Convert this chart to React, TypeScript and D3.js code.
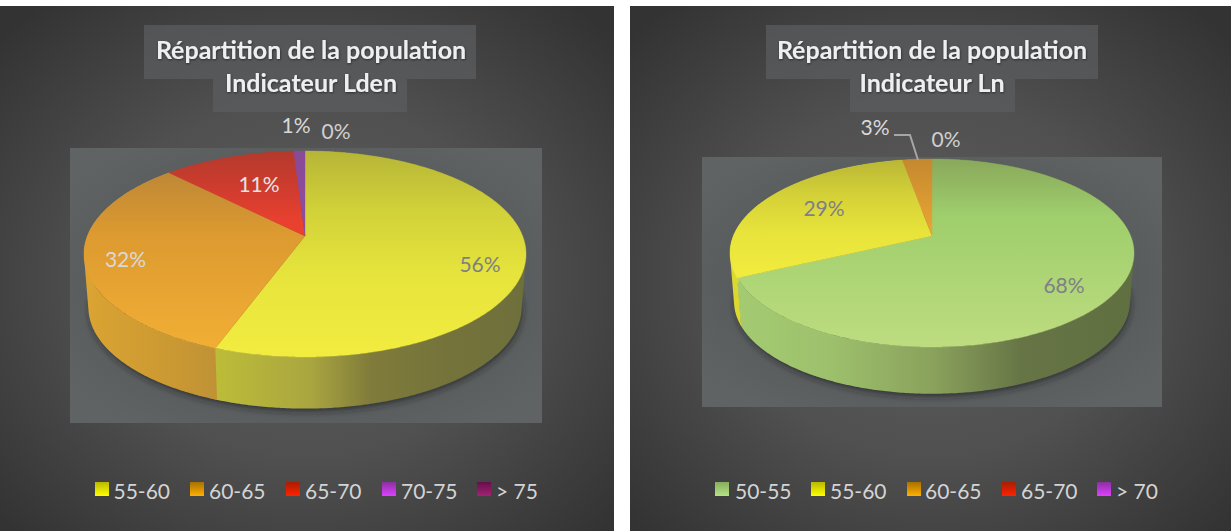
import React from "react";
import * as d3 from "d3";

const ldenCategories = ["55-60", "60-65", "65-70", "70-75", "> 75"];
const ldenValues = [55.6, 32, 11.45, 0.9, 0.05];
const ldenLabels = ["56%", "32%", "11%", "1%", "0%"];
const lnCategories = ["50-55", "55-60", "60-65", "65-70", "> 70"];
const lnValues = [68, 29.2, 2.75, 0.03, 0.02];
const lnLabels = ["68%", "29%", "3%", "0%", "0%"];

type Shade = { top: [number, string][]; wall: [number, string][]; key: [string, string] };
const shades: Record<string, Shade> = {
  green: {
    top: [[0, "#89a85b"], [0.3, "#9fce6c"], [1, "#bddc80"]],
    wall: [[0, "#a4cc72"], [0.25, "#9dc06c"], [0.5, "#8aa25c"], [0.72, "#677546"], [1, "#5f6f40"]],
    key: ["#86ad5e", "#b4e484"],
  },
  yellow: {
    top: [[0, "#b7b537"], [0.3, "#d2d239"], [0.6, "#e6e43c"], [1, "#f3ec40"]],
    wall: [[0, "#bcbc38"], [0.3, "#aaa640"], [0.5, "#7f7b3a"], [0.75, "#74733a"], [1, "#6e703c"]],
    key: ["#b8b800", "#ffff00"],
  },
  lemon: {
    top: [[0, "#b9b636"], [0.2, "#d5d238"], [0.4, "#e8e43b"], [0.65, "#f3ec40"]],
    wall: [[0, "#dcd832"], [1, "#dcd832"]],
    key: ["#b8b800", "#ffff00"],
  },
  orange: {
    top: [[0, "#b48139"], [0.4, "#dc9a30"], [1, "#f3b035"]],
    wall: [[0, "#dba432"], [0.6, "#cc9a32"], [1, "#c09236"]],
    key: ["#a87000", "#ffb000"],
  },
  amber: {
    top: [[0, "#c4882f"], [0.38, "#e9a534"], [1, "#e9a534"]],
    wall: [[0, "#bd8c35"], [1, "#bd8c35"]],
    key: ["#a87000", "#ffb000"],
  },
  red: {
    top: [[0, "#b33a2d"], [0.2, "#d23c2e"], [0.35, "#ea412f"], [1, "#ea412f"]],
    wall: [[0, "#a8382c"], [1, "#a8382c"]],
    key: ["#a81e00", "#ff2200"],
  },
  purple: {
    top: [[0, "#8a4a98"], [1, "#9550a8"]],
    wall: [[0, "#7a4388"], [1, "#7a4388"]],
    key: ["#8a30a0", "#e040ff"],
  },
  plum: {
    top: [[0, "#6a1050"], [1, "#a02070"]],
    wall: [[0, "#6a1050"], [1, "#6a1050"]],
    key: ["#650f4c", "#a32272"],
  },
};

const FONT = "Lato, 'Open Sans', sans-serif";
const tau = Math.PI * 2;
const VISIBLE_SLICE = 0.5; // slices below this share are too thin to paint
const WALL_OVERLAP = 0.008; // radians a wall runs under its neighbour, to close the seam

type Cfg = {
  id: string;
  title: string[];
  panel: [number, number, number, number];
  plot: [number, number, number, number];
  titleBoxes: [number, number, number, number][];
  titleCx: number;
  cx: number;
  cy: number;
  rx: number;
  near: number;
  far: number;
  depth: number;
  categories: string[];
  values: number[];
  labels: string[];
  colors: string[];
  labelPos: ([number, number, string] | null)[];
  keyX: number[];
  textX: number[];
  leader?: [number, number][];
};

const charts: Cfg[] = [
  {
    id: "a",
    title: ["Répartition de la population", "Indicateur Lden"],
    panel: [0, 6, 614, 525],
    plot: [70, 148, 472, 275],
    titleBoxes: [[144, 25, 332, 54], [213, 79, 194, 33]],
    titleCx: 311,
    cx: 305,
    cy: 236,
    rx: 221,
    near: 121,
    far: 85,
    depth: 54,
    categories: ldenCategories,
    values: ldenValues,
    labels: ldenLabels,
    colors: ["yellow", "orange", "red", "purple", "plum"],
    labelPos: [[480, 272, "#7f7f86"], [125.5, 267, "#d9d9d9"], [259, 192, "#e4e4e4"], [296, 133, "#d9d9d9"], [336, 139, "#d0d0d0"]],
    keyX: [95, 190, 286, 382, 477],
    textX: [113.5, 209, 305, 401, 496],
  },
  {
    id: "b",
    title: ["Répartition de la population", "Indicateur Ln"],
    panel: [630, 6, 601, 525],
    plot: [702, 157, 460, 250],
    titleBoxes: [[766, 25, 332, 54], [850, 79, 165, 33]],
    titleCx: 932,
    cx: 932,
    cy: 236,
    rx: 202,
    near: 111,
    far: 77,
    depth: 49,
    categories: lnCategories,
    values: lnValues,
    labels: lnLabels,
    colors: ["green", "lemon", "amber", "red", "purple"],
    labelPos: [[1064, 293, "#7f7f86"], [824, 216, "#7f7f86"], [875, 135, "#d9d9d9"], [946, 147, "#d0d0d0"], null],
    keyX: [715, 811, 907, 1002, 1097],
    textX: [735, 830, 925, 1021, 1116],
    leader: [[894, 135], [910, 135], [918, 160]],
  },
];

// Perspective view of the pie's disc: the pivot is nearer the far rim than the near rim.
function projector(c: Cfg) {
  const k = (c.near - c.far) / (c.near + c.far);
  const a = c.far * (1 + k);
  const b = c.rx * Math.sqrt(1 - k * k);
  return (theta: number, r: number, level: number): [number, number] => {
    const u = Math.sin(theta) * r;
    const v = Math.cos(theta) * r;
    const w = 1 + k * v;
    const s = level ? 0.98 : 1;
    return [c.cx + (s * b * u) / w, c.cy + level * c.depth - (s * a * v) / w];
  };
}

function Stops({ stops }: { stops: [number, string][] }) {
  return (
    <>
      {stops.map(([o, col], i) => (
        <stop key={i} offset={o} stopColor={col} />
      ))}
    </>
  );
}

function Chart({ c }: { c: Cfg }) {
  const project = projector(c);
  const slices = d3.pie<number>().sort(null).startAngle(0).endAngle(tau)(c.values);
  const visible = slices.filter((s) => s.value >= VISIBLE_SLICE);
  const line = d3.line<[number, number]>().x((d) => d[0]).y((d) => d[1]).curve(d3.curveLinear);
  const arcPoints = (from: number, to: number, level: number) => {
    const n = Math.max(2, Math.ceil((to - from) / 0.01));
    return d3.range(n + 1).map((i) => project(from + ((to - from) * i) / n, 1, level));
  };
  // The wall as one strip of quads, all wound the same way, so its outline runs along the tangents.
  const wallPath = (from: number, to: number) => {
    const t = arcPoints(from, to, 0);
    const b = arcPoints(from, to, 1);
    return d3
      .range(t.length - 1)
      .map((i) => {
        const quad: [number, number][] = [t[i], t[i + 1], b[i + 1], b[i]];
        if (d3.polygonArea(quad) < 0) quad.reverse();
        return (line(quad) ?? "") + "Z";
      })
      .join("");
  };
  const topY = c.cy - c.far;
  const bottomY = c.cy + c.near;
  const wallX0 = c.cx - c.rx;
  const wallX1 = c.cx + c.rx;
  const shadowPts = arcPoints(0, tau, 1).map(([x, y]) => [x + 1, y + 3] as [number, number]);

  return (
    <g>
      <defs>
        {c.colors.map((name) => (
          <React.Fragment key={name}>
            <linearGradient id={`${c.id}-top-${name}`} gradientUnits="userSpaceOnUse" x1={0} x2={0} y1={topY} y2={bottomY}>
              <Stops stops={shades[name].top} />
            </linearGradient>
            <linearGradient
              id={`${c.id}-wall-${name}`}
              gradientUnits="userSpaceOnUse"
              x1={name === "yellow" ? 217 : name === "orange" ? 84 : wallX0}
              x2={name === "orange" ? 218 : wallX1}
              y1={0}
              y2={0}
            >
              <Stops stops={shades[name].wall} />
            </linearGradient>
            <linearGradient id={`${c.id}-key-${name}`} x1={0} x2={0} y1={0} y2={1}>
              <stop offset={0} stopColor={shades[name].key[0]} />
              <stop offset={1} stopColor={shades[name].key[1]} />
            </linearGradient>
          </React.Fragment>
        ))}
        <radialGradient id={`${c.id}-panel`} cx="50%" cy="52%" r="68%">
          <stop offset={0} stopColor="#5e5e5e" />
          <stop offset={0.5} stopColor="#505050" />
          <stop offset={1} stopColor="#333333" />
        </radialGradient>
        <radialGradient id={`${c.id}-plot`} cx="50%" cy="50%" r="62%">
          <stop offset={0} stopColor="#4c5052" />
          <stop offset={0.6} stopColor="#565a5c" />
          <stop offset={1} stopColor="#606363" />
        </radialGradient>
      </defs>

      <rect x={c.panel[0]} y={c.panel[1]} width={c.panel[2]} height={c.panel[3]} fill={`url(#${c.id}-panel)`} />
      {c.titleBoxes.map((b, i) => (
        <rect key={i} x={b[0]} y={b[1]} width={b[2]} height={b[3]} fill="#5a5d5e" fillOpacity={0.72} />
      ))}
      {c.title.map((t, i) => (
        <text
          key={i}
          x={c.titleCx}
          y={59 + i * 32.5}
          textAnchor="middle"
          fontFamily={FONT}
          fontWeight={700}
          fontSize={25}
          fill="#efefef"
          filter="url(#textShadow)"
        >
          {t}
        </text>
      ))}
      <rect x={c.plot[0]} y={c.plot[1]} width={c.plot[2]} height={c.plot[3]} fill={`url(#${c.id}-plot)`} />

      <path d={(line(shadowPts) ?? "") + "Z"} fill="#1c1c1c" fillOpacity={0.6} filter="url(#pieShadow)" />

      {visible.map((s) => (
        <path
          key={s.index}
          d={wallPath(s.startAngle, s.endAngle + WALL_OVERLAP)}
          fill={`url(#${c.id}-wall-${c.colors[s.index]})`}
        />
      ))}
      {visible.map((s, j) => {
        const end = j === visible.length - 1 ? tau : s.endAngle;
        const pts = [project(0, 0, 0), ...arcPoints(s.startAngle, end, 0)];
        const fill = `url(#${c.id}-top-${c.colors[s.index]})`;
        return <path key={s.index} d={(line(pts) ?? "") + "Z"} fill={fill} stroke={fill} strokeWidth={0.4} />;
      })}

      {c.leader && <path d={line(c.leader) ?? ""} fill="none" stroke="#a6a6a9" strokeWidth={2} />}
      {c.labels.map((l, i) => {
        const p = c.labelPos[i];
        return p ? (
          <text key={i} x={p[0]} y={p[1]} textAnchor="middle" fontFamily={FONT} fontSize={21} fill={p[2]}>
            {l}
          </text>
        ) : null;
      })}

      {c.categories.map((cat, i) => (
        <g key={cat}>
          <rect x={c.keyX[i]} y={482} width={14} height={14} fill={`url(#${c.id}-key-${c.colors[i]})`} />
          <text x={c.textX[i]} y={499} fontFamily={FONT} fontSize={21} fill="#d4d4d4">
            {cat}
          </text>
        </g>
      ))}
    </g>
  );
}

export default function App() {
  return (
    <svg
      width={1231}
      height={531}
      viewBox="0 0 1231 531"
      style={{ position: "absolute", left: 0, top: 0, background: "#fff", display: "block" }}
    >
      <defs>
        <filter id="pieShadow" x="-10%" y="-10%" width="120%" height="130%">
          <feGaussianBlur stdDeviation="3" />
        </filter>
        <filter id="textShadow" x="-5%" y="-20%" width="110%" height="150%">
          <feDropShadow dx="0.5" dy="1" stdDeviation="1" floodColor="#000" floodOpacity="0.5" />
        </filter>
      </defs>
      {charts.map((c) => (
        <Chart key={c.id} c={c} />
      ))}
    </svg>
  );
}
